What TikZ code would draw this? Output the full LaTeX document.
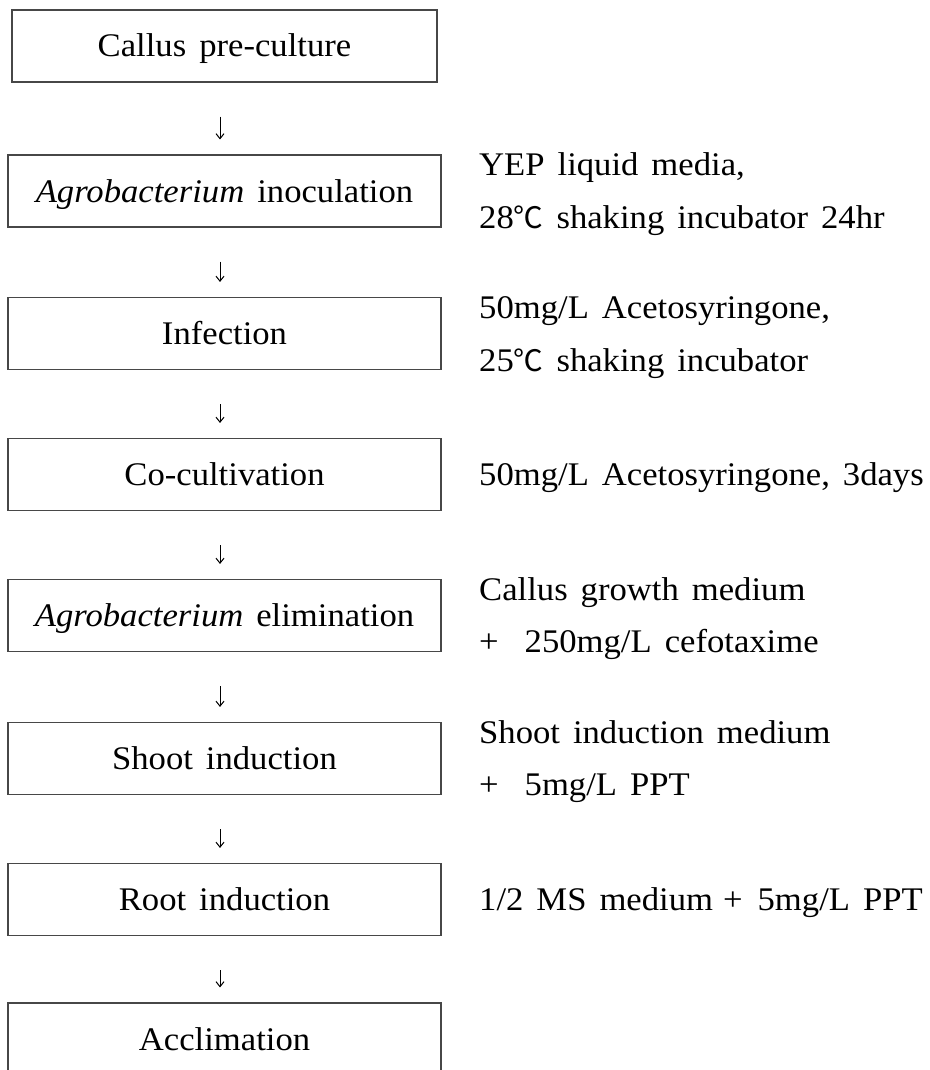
\documentclass[tikz,border=0pt]{standalone}
\usepackage{fontspec}
\setmainfont{Liberation Serif}[FakeStretch=1.05, WordSpace=1.5]
\newfontfamily\cjk{Noto Sans CJK KR}[Scale=0.9]
\usetikzlibrary{arrows.meta}
\newcommand{\degC}{{\cjk ℃}}
\tikzset{
  stepbox/.style={draw=black!72, line width=1.1pt, minimum width=433pt, minimum height=72pt,
    inner sep=0pt, text height=22pt, text depth=0pt, anchor=center},
  note/.style={anchor=base west, inner sep=0pt},
  flow/.style={line width=1pt, -{Straight Barb[length=5pt,width=8pt]},
    shorten <=34pt, shorten >=15pt},
}
\begin{document}
\begin{tikzpicture}[x=1pt, y=-1pt, font=\fontsize{33}{39}\selectfont]
\useasboundingbox (0,0) rectangle (929,1070);
\clip (0,0) rectangle (929,1070);
% boxes
\node[stepbox, minimum width=425pt] (b1) at (224.5,46) {Callus pre-culture};
\node[stepbox] (b2) at (224.5,191) {\textit{Agrobacterium} inoculation};
\node[stepbox] (b3) at (224.5,333.5) {Infection};
\node[stepbox] (b4) at (224.5,474.5) {Co-cultivation};
\node[stepbox] (b5) at (224.5,615.5) {\textit{Agrobacterium} elimination};
\node[stepbox] (b6) at (224.5,758.5) {Shoot induction};
\node[stepbox] (b7) at (224.5,899.5) {Root induction};
\node[stepbox] (b8) at (224.5,1039) {Acclimation};
% arrows
\foreach \a/\b in {b1/b2,b2/b3,b3/b4,b4/b5,b5/b6,b6/b7,b7/b8}
  \draw[flow] ([xshift=-4.5pt]\a.south) -- ([xshift=-4.5pt]\b.north);
% notes
\node[note] (n2a) at (479,175) {YEP liquid media,};
\node[note] (n2b) at (479,228) {28\degC\ shaking incubator 24hr};
\node[note] (n3a) at (479,318) {50mg/L Acetosyringone,};
\node[note] (n3b) at (479,371) {25\degC\ shaking incubator};
\node[note] (n4) at (479,485) {50mg/L Acetosyringone, 3days};
\node[note] (n5a) at (479,600) {Callus growth medium};
\node[note] (n5b) at (479,652) {+\ \ 250mg/L cefotaxime};
\node[note] (n6a) at (479,743) {Shoot induction medium};
\node[note] (n6b) at (479,795) {+\ \ 5mg/L PPT};
\node[note] (n7) at (479,910) {1/2 MS medium\hspace{10pt}+\hspace{15pt}5mg/L PPT};
\end{tikzpicture}
\end{document}
